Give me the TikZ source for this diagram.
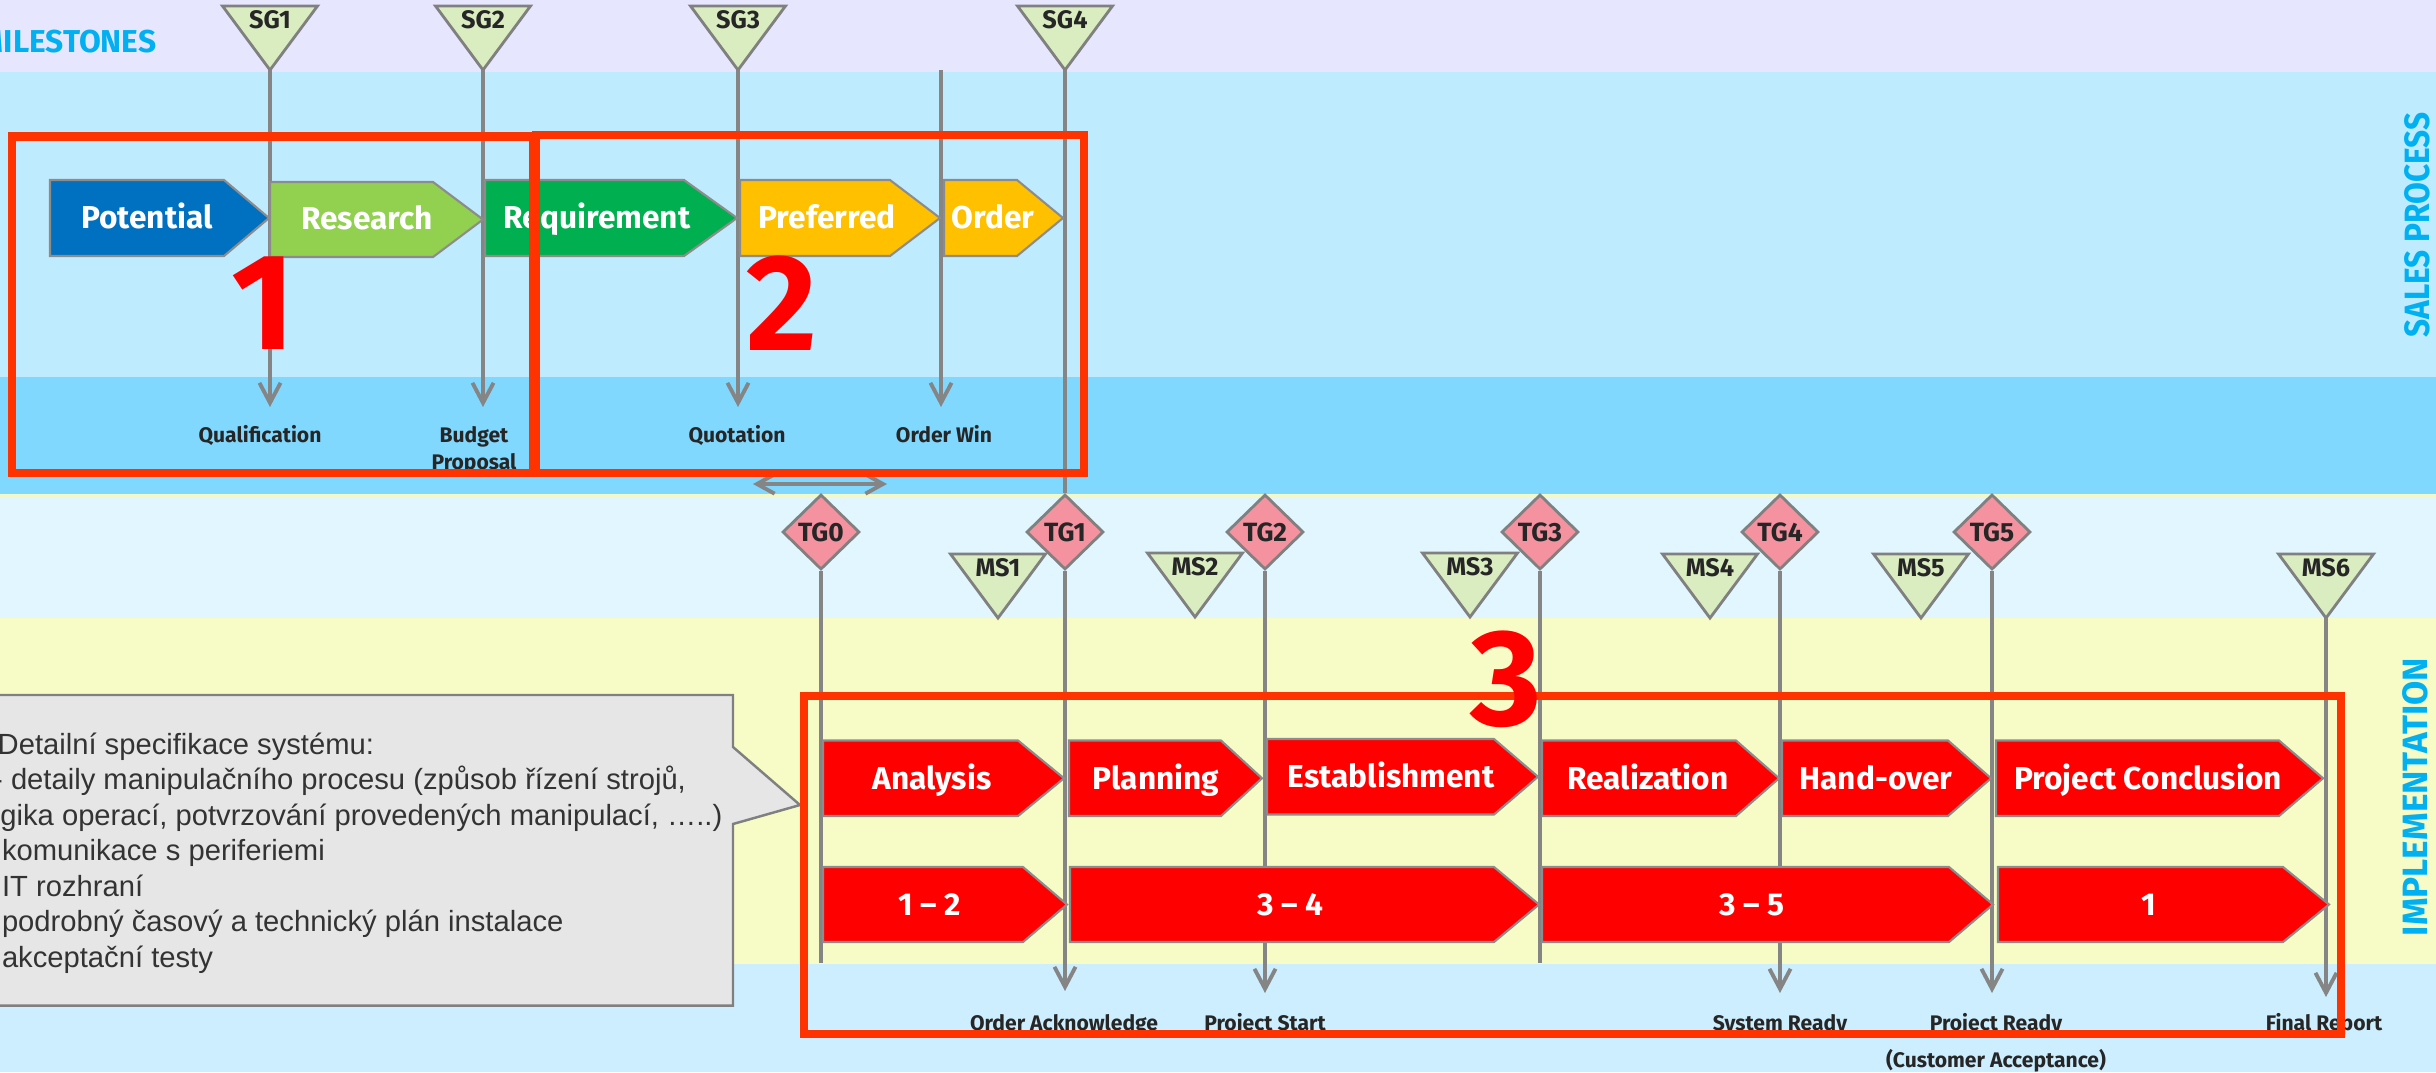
\documentclass[tikz,border=0pt]{standalone}
\usepackage{fontspec}
\setmainfont{Fira Sans}
\newfontfamily\callfont{Liberation Sans}
\newfontfamily\salesfont{Fira Sans Bold}[FakeStretch=0.9]
\usetikzlibrary{arrows.meta,shapes.geometric}
\definecolor{bandlav}{HTML}{E7E6FF}
\definecolor{bandsales}{HTML}{BFEBFF}
\definecolor{banddark}{HTML}{80D8FF}
\definecolor{bandimp}{HTML}{E1F6FF}
\definecolor{bandyel}{HTML}{F7FCC6}
\definecolor{bandbot}{HTML}{CCEEFF}
\definecolor{trigreen}{HTML}{DAEDC1}
\definecolor{tgpink}{HTML}{F592A0}
\definecolor{trigray}{HTML}{808080}
\definecolor{chevgray}{HTML}{8C8C8C}
\definecolor{linegray}{HTML}{858585}
\definecolor{frame}{HTML}{FF3300}
\definecolor{numred}{HTML}{FF0000}
\definecolor{chevred}{HTML}{FF0000}
\definecolor{sideblue}{HTML}{00B0F0}
\definecolor{txtdark}{HTML}{262626}
\definecolor{calltext}{HTML}{333333}
\definecolor{callfill}{HTML}{E6E6E6}
\definecolor{cblue}{HTML}{0070C0}
\definecolor{clgreen}{HTML}{92D050}
\definecolor{cgreen}{HTML}{00B050}
\definecolor{cyellow}{HTML}{FFC000}
\definecolor{seam}{HTML}{F2F8C8}
\newcommand\mychev[6]{%
  \filldraw[chevbox,fill=#6] (#1,#4) -- (#2,#4) -- (#3,{(#4+#5)/2}) -- (#2,#5) -- (#1,#5) -- cycle;}
\newcommand\mytri[4]{%
  \filldraw[tribox] ({#2-47.5},#3) -- ({#2+47.5},#3) -- (#2,{#3+64}) -- cycle;
  \coordinate (#1) at (#2,{#3+64});
  \node[gatetxt, anchor=base] (#1l) at (#2,{#3+22}) {#4};}
\begin{document}
\begin{tikzpicture}[x=0.01cm, y=-0.01cm,
 chevbox/.style={draw=chevgray, line width=0.6pt, line join=miter},
 tribox/.style={draw=trigray, fill=trigreen, line width=0.8pt, line join=miter},
 gatetxt/.style={text=txtdark, font=\fontsize{7.2}{8}\selectfont\bfseries, inner sep=0pt},
 tgnode/.style={shape=diamond, draw=trigray, fill=tgpink, line width=0.8pt, minimum width=0.77cm, minimum height=0.75cm, inner sep=0pt, text=txtdark, font=\fontsize{7.5}{9}\selectfont\bfseries},
 chevtxt/.style={text=white, font=\fontsize{9}{11}\selectfont\bfseries, inner sep=0pt, anchor=base},
 lbl/.style={text=txtdark, font=\fontsize{6}{7}\selectfont\bfseries, inner sep=0pt, anchor=base},
 vline/.style={draw=linegray, line width=1.1pt},
 varrow/.style={vline, -{Straight Barb[length=5.7pt, width=6pt]}},
 calltxt/.style={text=calltext, font=\callfont\fontsize{8.3}{10}\selectfont, inner sep=0pt, anchor=base west},
 redframe/.style={draw=frame, line width=2.3pt},
 bignum/.style={text=numred, font=\fontsize{39}{40}\selectfont\bfseries, inner sep=0pt, anchor=base},
 sidetxt/.style={text=sideblue, inner sep=0pt, anchor=base, rotate=90},
]
\useasboundingbox (0,0) rectangle (2436,1072);
\clip (0,0) rectangle (2436,1072);
% bands
\fill[bandlav] (0,0) rectangle (2436,72);
\fill[bandsales] (0,72) rectangle (2436,377);
\fill[banddark] (0,377) rectangle (2436,494);
\fill[bandimp] (0,494) rectangle (2436,618);
\fill[bandyel] (0,618) rectangle (2436,964);
\fill[bandbot] (0,964) rectangle (2436,1072);
\fill[seam] (0,494) rectangle (2436,497);
% side titles
\node[text=sideblue, font=\fontsize{9}{11}\selectfont\bfseries, inner sep=0pt, anchor=base east] (milestones) at (157,52) {MILESTONES};
\node[sidetxt, font=\salesfont\fontsize{10}{12}\selectfont] (salesproc) at (2429,225) {SALES PROCESS};
\node[sidetxt, font=\fontsize{10}{12}\selectfont\bfseries] (implement) at (2427,797) {IMPLEMENTATION};
% milestone triangles
\mytri{sg1}{270}{6}{SG1}
\mytri{sg2}{483}{6}{SG2}
\mytri{sg3}{738}{6}{SG3}
\mytri{sg4}{1065}{6}{SG4}
\mytri{ms1}{998}{554}{MS1}
\mytri{ms2}{1195}{553}{MS2}
\mytri{ms3}{1470}{553}{MS3}
\mytri{ms4}{1710}{554}{MS4}
\mytri{ms5}{1921}{554}{MS5}
\mytri{ms6}{2326}{554}{MS6}
% gates
\node[tgnode] (tg0) at (821,532) {TG0};
\node[tgnode] (tg1) at (1065,532) {TG1};
\node[tgnode] (tg2) at (1265,532) {TG2};
\node[tgnode] (tg3) at (1540,532) {TG3};
\node[tgnode] (tg4) at (1780,532) {TG4};
\node[tgnode] (tg5) at (1992,532) {TG5};
% line end points
\coordinate (owtop) at (941,70);
\coordinate (sg1e) at (270,407);
\coordinate (sg2e) at (483,407);
\coordinate (sg3e) at (738,407);
\coordinate (owe) at (941,407);
\coordinate (tg0e) at (821,963);
\coordinate (tg1e) at (1065,991);
\coordinate (tg2e) at (1265,993);
\coordinate (tg3e) at (1540,963);
\coordinate (tg4e) at (1780,993);
\coordinate (tg5e) at (1992,993);
\coordinate (ms6e) at (2326,997);
\coordinate (dal) at (753,484);
\coordinate (dar) at (887,484);
% vertical lines
\draw[varrow] (sg1) -- (sg1e);
\draw[varrow] (sg2) -- (sg2e);
\draw[varrow] (sg3) -- (sg3e);
\draw[varrow] (owtop) -- (owe);
\draw[vline] (sg4) -- (tg1.north);
\draw[vline] (tg0.south) -- (tg0e);
\draw[varrow] (tg1.south) -- (tg1e);
\draw[varrow] (tg2.south) -- (tg2e);
\draw[vline] (tg3.south) -- (tg3e);
\draw[varrow] (tg4.south) -- (tg4e);
\draw[varrow] (tg5.south) -- (tg5e);
\draw[varrow] (ms6) -- (ms6e);
\draw[vline, {Straight Barb[length=5pt,width=5.5pt]}-{Straight Barb[length=5pt,width=5.5pt]}] (dal) -- (dar);
% sales chevrons
\mychev{50}{224}{269}{180}{256}{cblue}
\mychev{270}{433}{483}{182}{257}{clgreen}
\mychev{485}{684}{737}{180}{256}{cgreen}
\mychev{740}{890}{940}{180}{256}{cyellow}
\mychev{944}{1017}{1063}{180}{256}{cyellow}
\node[chevtxt] (potential) at (147,228) {Potential};
\node[chevtxt] (research) at (367,229) {Research};
\node[chevtxt] (requirement) at (597,228) {Requirement};
\node[chevtxt] (preferred) at (827,228) {Preferred};
\node[chevtxt] (order) at (993,228) {Order};
% sales labels
\node[lbl] (qualif) at (260,442) {Qualification};
\node[lbl] (budget) at (474,442) {Budget};
\node[lbl] (proposal) at (474,469) {Proposal};
\node[lbl] (quotation) at (737,442) {Quotation};
\node[lbl] (orderwin) at (944,442) {Order Win};
% implementation chevrons row 1
\mychev{823}{1018}{1064}{740.5}{816}{chevred}
\mychev{1069}{1221}{1262}{740.5}{816}{chevred}
\mychev{1267}{1494}{1538}{739}{814.5}{chevred}
\mychev{1542}{1736}{1779}{740.5}{816}{chevred}
\mychev{1782}{1948}{1991}{740.5}{816}{chevred}
\mychev{1996}{2279}{2323}{740.5}{816}{chevred}
\node[chevtxt] (analysis) at (932,789) {Analysis};
\node[chevtxt] (planning) at (1156,789) {Planning};
\node[chevtxt] (establish) at (1391,787) {Establishment};
\node[chevtxt] (realiz) at (1648,789) {Realization};
\node[chevtxt] (handover) at (1876,789) {Hand-over};
\node[chevtxt] (conclusion) at (2148,789) {Project Conclusion};
% row 2
\mychev{823}{1023}{1067}{867}{942}{chevred}
\mychev{1070}{1494}{1539}{867}{942}{chevred}
\mychev{1542}{1949}{1993}{867}{942}{chevred}
\mychev{1998}{2283}{2329}{867}{942}{chevred}
\node[chevtxt] (dur1) at (930,915) {1 – 2};
\node[chevtxt] (dur2) at (1290,915) {3 – 4};
\node[chevtxt] (dur3) at (1752,915) {3 – 5};
\node[chevtxt] (dur4) at (2149,915) {1};
% bottom labels
\node[lbl] (orderack) at (1064,1030) {Order Acknowledge};
\node[lbl] (projstart) at (1265,1030) {Project Start};
\node[lbl] (sysready) at (1780,1030) {System Ready};
\node[lbl] (projready) at (1996,1030) {Project Ready};
\node[lbl] (custacc) at (1996,1067) {(Customer Acceptance)};
\node[lbl] (finalrep) at (2324,1030) {Final Report};
% callout
\filldraw[fill=callfill, draw=trigray, line width=0.7pt, line join=miter] (-20,695) -- (733,695) -- (733,747) -- (800,805) -- (733,824) -- (733,1005.5) -- (-20,1005.5) -- cycle;
\node[calltxt] (cl1) at (-3,754) {Detailní specifikace systému:};
\node[calltxt] (cl2) at (-7.5,789.5) {- detaily manipulačního procesu (způsob řízení strojů,};
\node[calltxt] (cl3) at (-23,825) {logika operací, potvrzování provedených manipulací, …..)};
\node[calltxt] (cl4) at (-16.5,860.5) {- komunikace s periferiemi};
\node[calltxt] (cl5) at (-16.5,896) {- IT rozhraní};
\node[calltxt] (cl6) at (-16.5,931.5) {- podrobný časový a technický plán instalace};
\node[calltxt] (cl7) at (-16.5,967) {- akceptační testy};
% red frames
\draw[redframe] (12,136.5) rectangle (533,473);
\draw[redframe] (536,135) rectangle (1084,473);
\draw[redframe] (804,696) rectangle (2341,1034);
\node[bignum] (num1) at (263,349) {1};
\node[bignum] (num2) at (782,350) {2};
\node[bignum] (num3) at (1506,725) {3};
\end{tikzpicture}
\end{document}
